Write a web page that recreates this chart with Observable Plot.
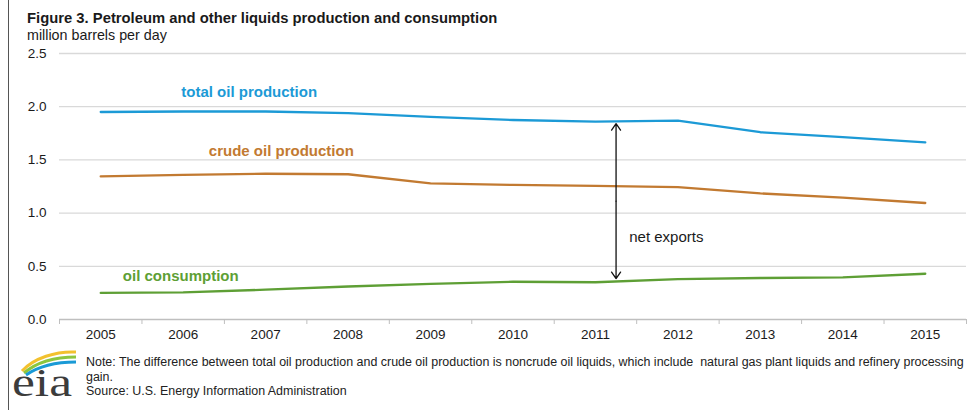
<!DOCTYPE html>
<html>
<head>
<meta charset="utf-8">
<script src="https://cdn.jsdelivr.net/npm/d3@7"></script>
<script src="https://cdn.jsdelivr.net/npm/@observablehq/plot@0.6"></script>
<style>
  html, body { margin: 0; padding: 0; background: #fff; }
  #page { position: relative; width: 974px; height: 410px; overflow: hidden; font-family: "Liberation Sans", Arial, sans-serif; color: #1a1a1a; }
  #frame { position: absolute; left: 8px; top: 0; width: 0; height: 410px; border-left: 1.3px solid #555; }
  #title { position: absolute; left: 27px; top: 10px; font-weight: bold; font-size: 14.8px; line-height: 17px; white-space: nowrap; }
  #subtitle { position: absolute; left: 27px; top: 27px; font-size: 14.3px; line-height: 17px; white-space: nowrap; }
  #chart { position: absolute; left: 0; top: 40px; }
  #note { position: absolute; left: 86px; top: 355px; font-family: "Liberation Sans Narrow", "Liberation Sans", sans-serif; font-size: 12.45px; line-height: 14.6px; color: #222; white-space: nowrap; }
  #logo { position: absolute; left: 8px; top: 344px; }
</style>
</head>
<body>
<div id="page">
  <div id="frame"></div>
  <div id="title">Figure 3. Petroleum and other liquids production and consumption</div>
  <div id="subtitle">million barrels per day</div>
  <div id="chart"></div>
  <svg id="logo" width="74" height="64" viewBox="0 0 74 64">
    <path d="M14 27 C 26 14, 48 7, 68 8" fill="none" stroke="#f2c12e" stroke-width="3"/>
    <path d="M16 29 C 29 18, 48 13, 68 13" fill="none" stroke="#8cc63f" stroke-width="3"/>
    <path d="M18 31 C 31 22, 48 18, 68 18" fill="none" stroke="#1a9ad6" stroke-width="3"/>
    <text x="4" y="52" font-family="Liberation Serif, DejaVu Serif, serif" font-size="40" fill="#3c3c3c" textLength="60" lengthAdjust="spacingAndGlyphs">eia</text>
  </svg>
  <div id="note">Note: The difference between total oil production and crude oil production is noncrude oil liquids, which include&nbsp; natural gas plant liquids and refinery processing<br>gain.<br>Source: U.S. Energy Information Administration</div>
</div>
<script>
const years = [2005, 2006, 2007, 2008, 2009, 2010, 2011, 2012, 2013, 2014, 2015];
const totalProduction = [1.95, 1.955, 1.955, 1.94, 1.905, 1.875, 1.86, 1.87, 1.76, 1.715, 1.665];
const crudeProduction = [1.345, 1.36, 1.37, 1.365, 1.28, 1.265, 1.255, 1.245, 1.185, 1.145, 1.095];
const consumption = [0.25, 0.255, 0.28, 0.31, 0.335, 0.355, 0.35, 0.38, 0.39, 0.395, 0.43];
const yTicks = [0, 0.5, 1.0, 1.5, 2.0, 2.5];
const seriesNames = ["total oil production", "crude oil production", "oil consumption"];
const seriesColors = ["#1c9ad6", "#c27a31", "#5e9f35"];
// annotation label anchors (data coordinates)
const labelYears = [2006.8, 2007.19, 2005.97];
const labelValues = [2.14, 1.58, 0.405];
const arrowYear = 2011.25;
const arrowTop = 1.84;
const arrowBottom = 0.385;
const netExportsLabel = "net exports";

const seriesValues = [totalProduction, crudeProduction, consumption];
const rows = seriesNames.flatMap((name, i) => years.map((year, j) => ({series: name, year, value: seriesValues[i][j]})));
const labels = seriesNames.map((name, i) => ({series: name, x: labelYears[i], y: labelValues[i]}));
const mid = (arrowTop + arrowBottom) / 2;
const halfYears = years.map(y => y - 0.5).concat([years[years.length - 1] + 0.5]);

const chart = Plot.plot({
  width: 974,
  height: 305,
  marginLeft: 59,
  marginRight: 8,
  marginTop: 13,
  marginBottom: 26,
  style: {fontFamily: "Liberation Sans, Arial, sans-serif", fontSize: "13px", color: "#1a1a1a", background: "transparent"},
  x: {domain: [years[0] - 0.5, years[years.length - 1] + 0.5]},
  y: {domain: [0, 2.5]},
  color: {domain: seriesNames, range: seriesColors},
  marks: [
    Plot.ruleY(yTicks.filter(d => d > 0), {stroke: "#d9d9d9", strokeWidth: 1.3}),
    Plot.ruleY([0], {stroke: "#bfbfbf", strokeWidth: 1.3}),
    Plot.axisY(yTicks, {tickSize: 0, tickPadding: 13, tickFormat: d3.format(".1f"), label: null, fontSize: 13.5}),
    Plot.axisX(halfYears, {tickSize: 5, tickFormat: () => "", stroke: "#bfbfbf", label: null}),
    Plot.axisX(years, {tickSize: 0, tickPadding: 10, tickFormat: d => String(d), label: null, fontSize: 13.5}),
    Plot.line(rows, {x: "year", y: "value", z: "series", stroke: "series", strokeWidth: 2.3}),
    Plot.text(labels, {x: "x", y: "y", text: "series", fill: "series", fontWeight: "bold", fontSize: 15, textAnchor: "middle"}),
    Plot.arrow([{x: arrowYear, y1: mid, y2: arrowTop}, {x: arrowYear, y1: mid, y2: arrowBottom}],
      {x1: "x", x2: "x", y1: "y1", y2: "y2", stroke: "#111", strokeWidth: 1.3, headLength: 9, headAngle: 70}),
    Plot.text([netExportsLabel], {x: arrowYear + 0.16, y: 0.772, text: d => d, textAnchor: "start", fontSize: 15, fill: "#1a1a1a"})
  ]
});
document.getElementById("chart").appendChild(chart);
</script>
</body>
</html>
